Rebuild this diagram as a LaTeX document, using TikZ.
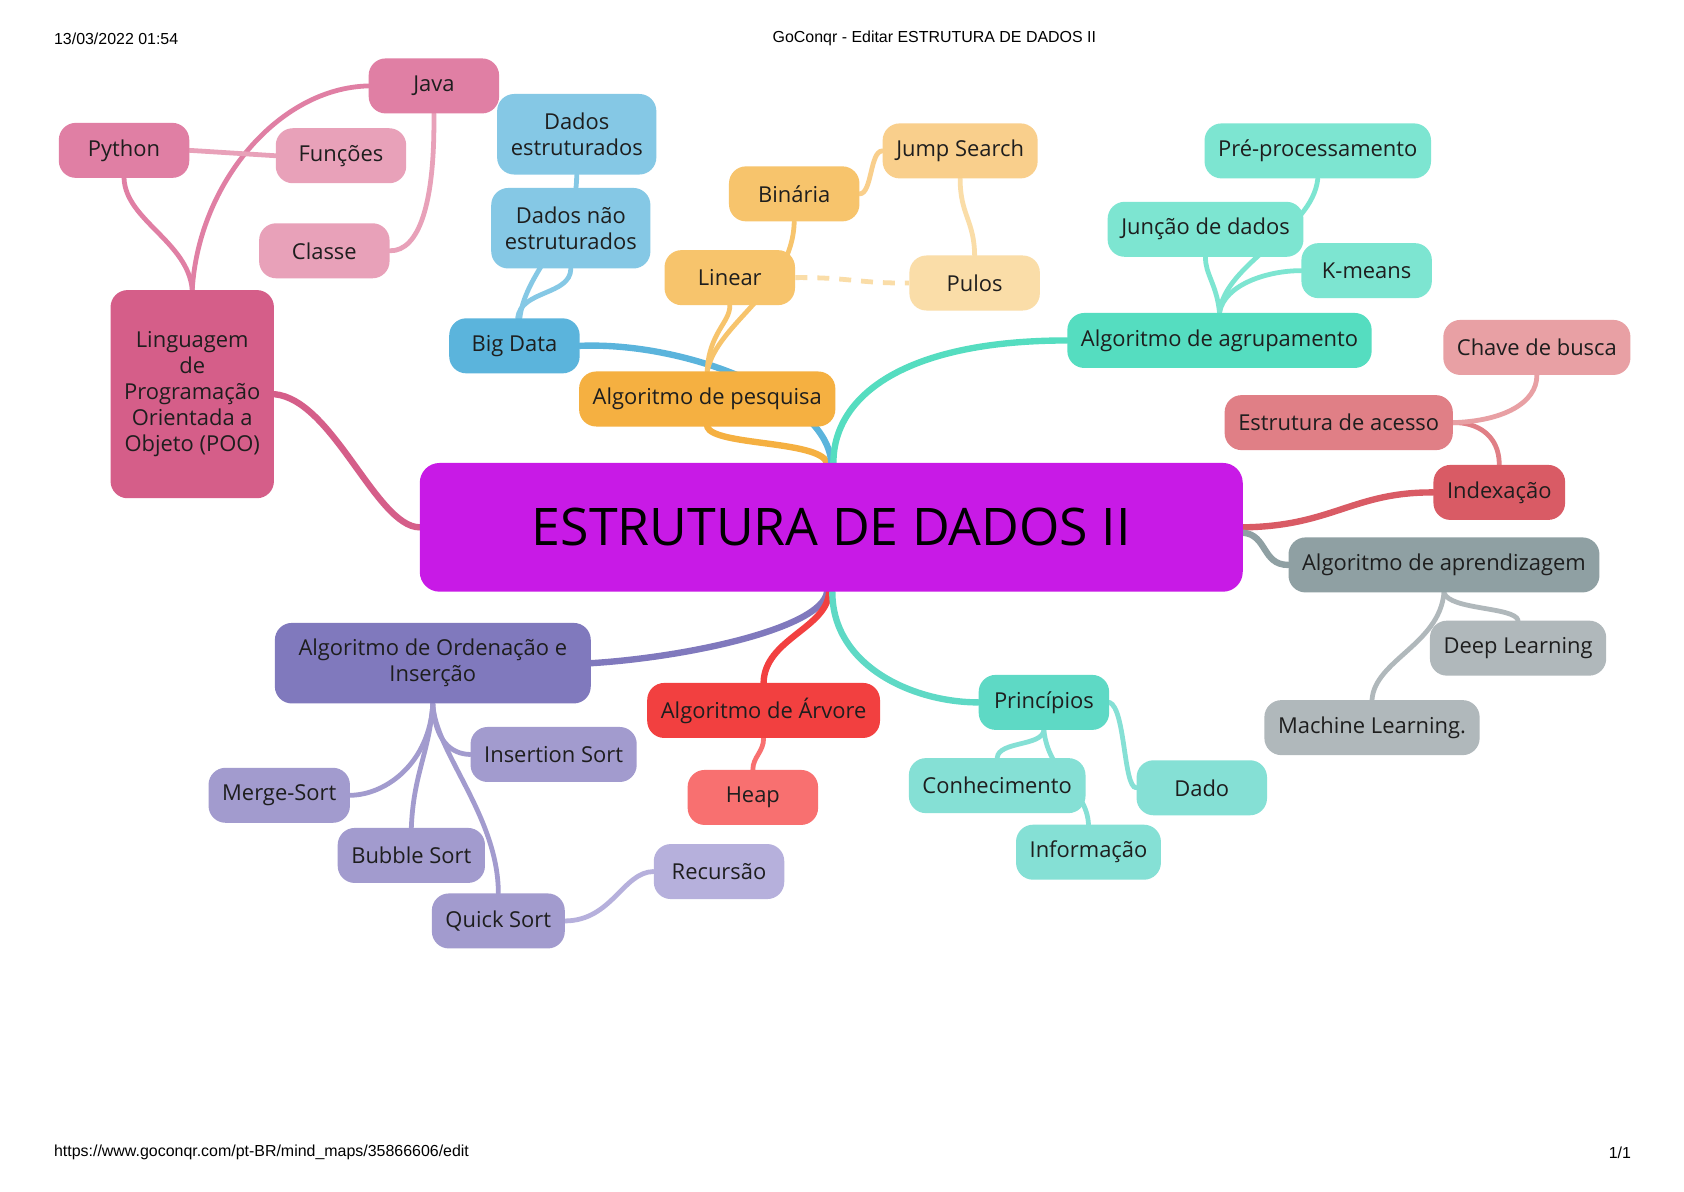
\documentclass[tikz,border=0pt]{standalone}
\usepackage{fontspec}
\setmainfont{Open Sans}
\newfontfamily\headfont{Liberation Sans}
\usetikzlibrary{calc}

\pgfdeclarelayer{paper}
\pgfdeclarelayer{links}
\pgfsetlayers{paper,links,main}

\definecolor{ink}{HTML}{1E1E1E}
\definecolor{hub}{HTML}{C81AE6}
\definecolor{pooDark}{HTML}{D55E89}
\definecolor{pinkMid}{HTML}{E07FA4}
\definecolor{pinkLight}{HTML}{E8A1B9}
\definecolor{blueDark}{HTML}{5BB4DC}
\definecolor{blueLight}{HTML}{85C8E5}
\definecolor{orangeDark}{HTML}{F5B041}
\definecolor{orangeMid}{HTML}{F7C46C}
\definecolor{orangeLight}{HTML}{F9CF8C}
\definecolor{orangePale}{HTML}{FADDA8}
\definecolor{tealDark}{HTML}{55DDC0}
\definecolor{tealLight}{HTML}{7DE5D1}
\definecolor{roseLight}{HTML}{E8A0A4}
\definecolor{roseMid}{HTML}{E07F86}
\definecolor{roseDark}{HTML}{D95B65}
\definecolor{grayDark}{HTML}{8FA0A3}
\definecolor{grayLight}{HTML}{B0B8BB}
\definecolor{princDark}{HTML}{5ED9C5}
\definecolor{princLight}{HTML}{85E0D5}
\definecolor{redDark}{HTML}{F24040}
\definecolor{redLight}{HTML}{F87070}
\definecolor{purpleDark}{HTML}{8079BD}
\definecolor{purpleMid}{HTML}{A29BCE}
\definecolor{purpleLight}{HTML}{B6B0DC}

\begin{document}
\begin{tikzpicture}[x=0.01894cm,y=-0.01894cm,
		topic/.style={rounded corners=0.3cm,minimum width=2.3cm,minimum height=0.97cm,inner xsep=0.24cm,inner ysep=0.1cm,align=center,text=ink,font=\fontsize{11}{13}\selectfont},
		twoline/.style={topic,minimum height=1.42cm},
		headtext/.style={font=\headfont\fontsize{8}{10}\selectfont,inner sep=0pt},
		branch/.style={line width=3.2pt,line cap=round},
		twig/.style={line width=2.4pt,line cap=round}]
	\begin{pgfonlayer}{paper}
		\fill[white] (0,0) rectangle (1568,1109);
	\end{pgfonlayer}
	\useasboundingbox (0,0) rectangle (1568,1109);

	\node[headtext,anchor=west] (date) at (50,36) {13/03/2022 01:54};
	\node[headtext,anchor=base] (pagetitle) at (870,40) {GoConqr - Editar ESTRUTURA DE DADOS II};
	\node[headtext,anchor=west] (url) at (50,1073) {https://www.goconqr.com/pt-BR/mind\_maps/35866606/edit};
	\node[headtext,anchor=east] (pagenum) at (1519,1073) {1/1};

	\node[fill=hub,rounded corners=0.35cm,minimum width=14.51cm,minimum height=2.27cm,font=\fontsize{26}{30}\selectfont,text=black] (central) at (774,491) {ESTRUTURA DE DADOS II};

	\node[topic,fill=pooDark,minimum width=2.88cm,minimum height=3.67cm] (poo) at (179,367) {Linguagem\\de\\Programação\\Orientada a\\Objeto (POO)};
	\node[topic,fill=pinkMid] (java) at (404,80) {Java};
	\node[topic,fill=pinkMid] (python) at (115.5,140) {Python};
	\node[topic,fill=pinkLight] (funcoes) at (317.5,145) {Funções};
	\node[topic,fill=pinkLight] (classe) at (302,233.5) {Classe};

	\node[twoline,fill=blueLight] (dadosEst) at (537,125) {Dados\\estruturados};
	\node[twoline,fill=blueLight] (dadosNao) at (531.5,212.5) {Dados não\\estruturados};
	\node[topic,fill=blueDark] (bigData) at (479,322) {Big Data};

	\node[topic,fill=orangeMid] (binaria) at (739.5,180.5) {Binária};
	\node[topic,fill=orangeLight] (jump) at (894,140.5) {Jump Search};
	\node[topic,fill=orangeMid] (linear) at (679.5,258.5) {Linear};
	\node[topic,fill=orangePale] (pulos) at (907.5,263.5) {Pulos};
	\node[topic,fill=orangeDark] (pesquisa) at (658.5,371.5) {Algoritmo de pesquisa};

	\node[topic,fill=tealLight] (pre) at (1227,140.5) {Pré-processamento};
	\node[topic,fill=tealLight] (juncao) at (1122.5,213.5) {Junção de dados};
	\node[topic,fill=tealLight] (kmeans) at (1272.5,252) {K-means};
	\node[topic,fill=tealDark] (agrup) at (1135.5,317) {Algoritmo de agrupamento};

	\node[topic,fill=roseLight] (chave) at (1431,323.5) {Chave de busca};
	\node[topic,fill=roseMid] (estrutura) at (1246.5,393.5) {Estrutura de acesso};
	\node[topic,fill=roseDark] (indexacao) at (1396,458.5) {Indexação};

	\node[topic,fill=grayDark] (aprend) at (1344.5,526) {Algoritmo de aprendizagem};
	\node[topic,fill=grayLight] (deep) at (1413.5,603.5) {Deep Learning};
	\node[topic,fill=grayLight] (machine) at (1277.5,677.5) {Machine Learning.};

	\node[topic,fill=princDark] (principios) at (972,654) {Princípios};
	\node[topic,fill=princLight] (conhec) at (928.5,731.5) {Conhecimento};
	\node[topic,fill=princLight] (dado) at (1119,733.5) {Dado};
	\node[topic,fill=princLight] (info) at (1013.5,793.5) {Informação};

	\node[topic,fill=redDark] (arvore) at (711,661.5) {Algoritmo de Árvore};
	\node[topic,fill=redLight] (heap) at (701,742.5) {Heap};

	\node[twoline,fill=purpleDark,minimum width=5.57cm] (ordenacao) at (403,617.5) {Algoritmo de Ordenação e\\Inserção};
	\node[topic,fill=purpleMid] (insertion) at (515.5,702.5) {Insertion Sort};
	\node[topic,fill=purpleMid] (merge) at (260,740.5) {Merge-Sort};
	\node[topic,fill=purpleMid] (bubble) at (383,796.5) {Bubble Sort};
	\node[topic,fill=purpleMid] (quick) at (464,857.5) {Quick Sort};
	\node[topic,fill=purpleLight] (recursao) at (669.5,811.5) {Recursão};

	\begin{pgfonlayer}{links}
		\draw[branch,orangeDark] ([shift={(-4,0)}]central.north) .. controls (762,410) and (665,415) .. (pesquisa.south);
		\draw[branch,blueDark] (central.north) .. controls (770,370) and (640,318) .. (bigData.east);
		\draw[branch,tealDark] ([shift={(2,0)}]central.north) .. controls (776,370) and (840,317) .. (agrup.west);
		\draw[branch,pooDark] (central.west) .. controls (350,490) and (310,372) .. (poo.east);
		\draw[branch,roseDark] (central.east) .. controls (1240,490) and (1260,458) .. (indexacao.west);
		\draw[branch,grayDark] ([shift={(0,5)}]central.east) .. controls (1180,498) and (1175,526) .. (aprend.west);
		\draw[branch,purpleDark] ([shift={(-4,0)}]central.south) .. controls (765,585) and (640,612) .. (ordenacao.east);
		\draw[branch,redDark] ([shift={(-2,0)}]central.south) .. controls (770,585) and (712,595) .. (arvore.north);
		\draw[branch,princDark] ([shift={(1,0)}]central.south) .. controls (775,620) and (850,654) .. (principios.west);

		\draw[twig,pinkMid] (poo.north) .. controls (175,225) and (117,205) .. (python.south);
		\draw[twig,pinkMid] (poo.north) .. controls (185,170) and (260,82) .. (java.west);
		\draw[twig,pinkLight] (python.east) -- (funcoes.west);
		\draw[twig,pinkLight] (java.south) .. controls (405,190) and (390,234) .. (classe.east);

		\draw[twig,blueLight] ([shift={(5,0)}]bigData.north) .. controls (490,250) and (537,220) .. (dadosEst.south);
		\draw[twig,blueLight] ([shift={(3,0)}]bigData.north) .. controls (485,270) and (531,275) .. (dadosNao.south);

		\draw[twig,orangeMid] (pesquisa.north) .. controls (660,310) and (680,300) .. (linear.south);
		\draw[twig,orangeMid] (pesquisa.north) .. controls (668,300) and (738,270) .. (binaria.south);
		\draw[twig,orangeLight] (binaria.east) .. controls (812,180) and (810,141) .. (jump.west);
		\draw[twig,orangePale] (jump.south) .. controls (894,200) and (907,205) .. (pulos.north);
		\draw[twig,orangePale,line cap=butt,dash pattern=on 6pt off 5pt] (linear.east) .. controls (790,258) and (800,264) .. (pulos.west);

		\draw[twig,tealLight] (agrup.north) .. controls (1133,265) and (1122,255) .. (juncao.south);
		\draw[twig,tealLight] (agrup.north) .. controls (1140,245) and (1222,215) .. (pre.south);
		\draw[twig,tealLight] (agrup.north) .. controls (1140,265) and (1180,252) .. (kmeans.west);

		\draw[twig,roseMid] (indexacao.north) .. controls (1396,405) and (1375,393) .. (estrutura.east);
		\draw[twig,roseLight] (estrutura.east) .. controls (1400,392) and (1431,375) .. (chave.south);

		\draw[twig,grayLight] (aprend.south) .. controls (1350,568) and (1410,565) .. (deep.north);
		\draw[twig,grayLight] (aprend.south) .. controls (1340,600) and (1280,615) .. (machine.north);

		\draw[twig,princLight] (principios.south) .. controls (970,695) and (930,690) .. (conhec.north);
		\draw[twig,princLight] (principios.south) .. controls (976,720) and (1012,735) .. (info.north);
		\draw[twig,princLight] (principios.east) .. controls (1048,660) and (1046,733) .. (dado.west);

		\draw[twig,redLight] (arvore.south) .. controls (711,700) and (701,705) .. (heap.north);

		\draw[twig,purpleMid] (ordenacao.south) .. controls (405,690) and (420,702) .. (insertion.west);
		\draw[twig,purpleMid] (ordenacao.south) .. controls (400,710) and (360,740) .. (merge.east);
		\draw[twig,purpleMid] (ordenacao.south) .. controls (400,700) and (385,720) .. (bubble.north);
		\draw[twig,purpleMid] (ordenacao.south) .. controls (405,700) and (464,760) .. (quick.north);
		\draw[twig,purpleLight] (quick.east) .. controls (570,857) and (580,812) .. (recursao.west);
	\end{pgfonlayer}
\end{tikzpicture}
\end{document}
